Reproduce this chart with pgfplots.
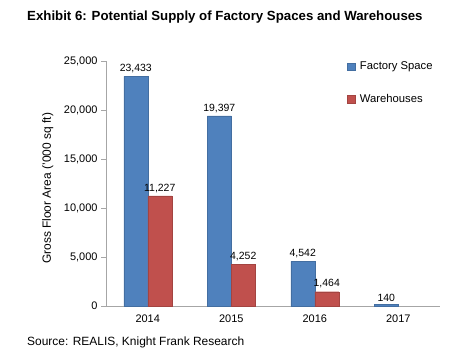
\documentclass[border=0pt]{standalone}
\usepackage{pgfplots}
\pgfplotsset{compat=1.18}
\usepackage{fontspec}
\setmainfont{Liberation Sans}
\definecolor{fblue}{HTML}{4F81BD}
\definecolor{wred}{HTML}{C0504D}
\definecolor{axgray}{HTML}{A6A6A6}
\begin{document}
\begin{tikzpicture}[x=1bp,y=1bp]
\useasboundingbox (0,0) rectangle (467,360);
\node[anchor=west,inner sep=0pt,font=\bfseries\fontsize{13.3}{15}\selectfont] at (27,343) {Exhibit 6: Potential Supply of Factory Spaces and Warehouses};
\node[anchor=west,inner sep=0pt,font=\fontsize{12}{14}\selectfont] at (27,18) {Source: REALIS, Knight Frank Research};
\begin{axis}[
  at={(106bp,54bp)}, anchor=south west,
  scale only axis, width=334bp, height=245bp,
  ybar=0pt, bar width=24bp,
  xmin=-0.5, xmax=3.5, ymin=0, ymax=25000,
  xtick={0,1,2,3}, xticklabels={2014,2015,2016,2017},
  major x tick style={draw=none},
  extra x ticks={-0.5,0.5,1.5,2.5,3.5}, extra x tick labels={},
  extra x tick style={tick align=outside, major tick length=4bp, tick style={draw=axgray}},
  ytick={0,5000,10000,15000,20000,25000},
  yticklabel style={/pgf/number format/.cd,1000 sep={,}},
  scaled y ticks=false,
  /pgf/number format/assume math mode=true,
  axis x line*=bottom, axis y line*=left,
  axis line style={draw=axgray},
  y axis line style={-}, x axis line style={-},
  tick align=outside, major tick length=5bp,
  tick style={draw=axgray},
  ticklabel style={font=\fontsize{11}{13}\selectfont},
  ylabel={Gross Floor Area ('000 sq ft)},
  ylabel style={font=\fontsize{12}{14}\selectfont, at={(axis description cs:-0.174,0.48)}, anchor=center},
  nodes near coords,
  every node near coord/.append style={font=\fontsize{10.5}{12}\selectfont, black, /pgf/number format/.cd, 1000 sep={,}, assume math mode=true},
  legend style={at={(0.72,1.005)}, anchor=north west, draw=none, fill=none,
    font=\fontsize{11.3}{13}\selectfont, row sep=19bp, inner sep=0pt,
    nodes={inner xsep=5bp}},
  legend cell align=left,
  legend image code/.code={\fill[#1] (0bp,-3.8bp) rectangle (8bp,3.8bp);},
]
\addplot[fill=fblue, draw=fblue!85!black, line width=0.3pt] coordinates {(0,23433) (1,19397) (2,4542) (3,140)};
\addplot[fill=wred, draw=wred!85!black, line width=0.3pt] coordinates {(0,11227) (1,4252) (2,1464)};
\legend{Factory Space,Warehouses}
\end{axis}
\end{tikzpicture}
\end{document}
